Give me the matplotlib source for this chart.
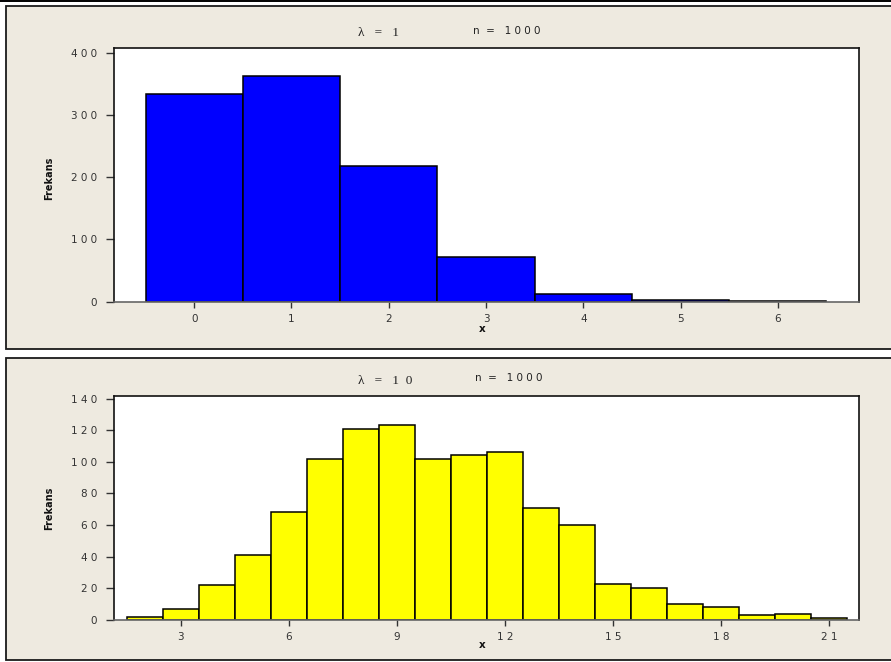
import matplotlib
matplotlib.use("Agg")
import matplotlib.pyplot as plt
from matplotlib.patches import Rectangle
from matplotlib.lines import Line2D

# Poisson samples, n = 1000
x_lam1 = [0, 1, 2, 3, 4, 5, 6]
freq_lam1 = [333, 363, 218, 71, 12, 2, 1]
xticks_lam1 = [0, 1, 2, 3, 4, 5, 6]
yticks_lam1 = [0, 100, 200, 300, 400]

x_lam10 = list(range(2, 22))
freq_lam10 = [2, 7, 22, 41, 68, 102, 121, 123, 102, 104, 106, 71, 60, 23, 20, 10, 8, 3, 4, 1]
xticks_lam10 = [3, 6, 9, 12, 15, 18, 21]
yticks_lam10 = [0, 20, 40, 60, 80, 100, 120, 140]

W, H = 891, 662
BG = "#eeeae0"

fig = plt.figure(figsize=(W / 100, H / 100), dpi=100)
fig.patch.set_facecolor("white")


def fx(px):
    return px / W


def fy(py):
    return 1 - py / H


# panel frames (behind the axes)
fig.add_artist(Line2D([0, 1], [fy(0.8), fy(0.8)], color="black", lw=1.4, zorder=-2))
for top, bot in [(6, 348.5), (358.3, 660)]:
    fig.add_artist(Rectangle((fx(6), fy(bot)), fx(W + 10) - fx(6), fy(top) - fy(bot),
                             facecolor=BG, edgecolor="#1a1a1a", lw=1.3, zorder=-2))


def spaced(v):
    return " ".join(str(v))


def panel(rect, xs, ys, color, xticks, yticks, xlim, ylim, lam_text, lam_pos, n_pos,
          ylab_y, xlab_y):
    ax = fig.add_axes(rect)
    ax.set_facecolor("white")
    ax.bar(xs, ys, width=1.0, color=color, edgecolor="black", linewidth=1.1, zorder=2)
    ax.set_xlim(*xlim)
    ax.set_ylim(*ylim)
    ax.set_xticks(xticks)
    ax.set_xticklabels([spaced(t) for t in xticks])
    ax.set_yticks(yticks)
    ax.set_yticklabels([spaced(t) for t in yticks])
    ax.tick_params(axis="y", direction="out", length=6, width=1, pad=6,
                   labelsize=7.5, colors="#333333")
    ax.tick_params(axis="x", direction="out", length=4, width=1, pad=5,
                   labelsize=7.5, colors="#333333")
    for s in ["left", "top", "right"]:
        ax.spines[s].set_color("#111111")
        ax.spines[s].set_linewidth(1.2)
    ax.spines["bottom"].set_color("#666666")
    ax.spines["bottom"].set_linewidth(1.2)
    fig.text(fx(lam_pos[0]), fy(lam_pos[1]), lam_text, ha="center", va="center",
             fontsize=9.5, family="Liberation Serif", color="#222222")
    fig.text(fx(n_pos[0]), fy(n_pos[1]), "n  =   1 0 0 0", ha="center", va="center",
             fontsize=7.5, color="#222222")
    fig.text(fx(49), fy(ylab_y), "Frekans", rotation=90, ha="center", va="center",
             fontsize=7, fontweight="bold", color="#111111")
    fig.text(fx(482), fy(xlab_y), "x", ha="center", va="center",
             fontsize=7.5, fontweight="bold", color="#111111")
    return ax


panel([fx(114), fy(301.7), fx(859) - fx(114), fy(48.3) - fy(301.7)],
      x_lam1, freq_lam1, "#0000ff", xticks_lam1, yticks_lam1,
      (-0.825, 6.835), (0, 407), "λ   =   1", (378, 33), (507, 31), 178, 329)

panel([fx(114), fy(620), fx(859) - fx(114), fy(395.7) - fy(620)],
      x_lam10, freq_lam10, "#ffff00", xticks_lam10, yticks_lam10,
      (1.15, 21.82), (0, 141.8), "λ   =   1  0", (385, 381), (509, 378), 508, 645)

fig.savefig("out.png", dpi=100, facecolor=fig.get_facecolor())
